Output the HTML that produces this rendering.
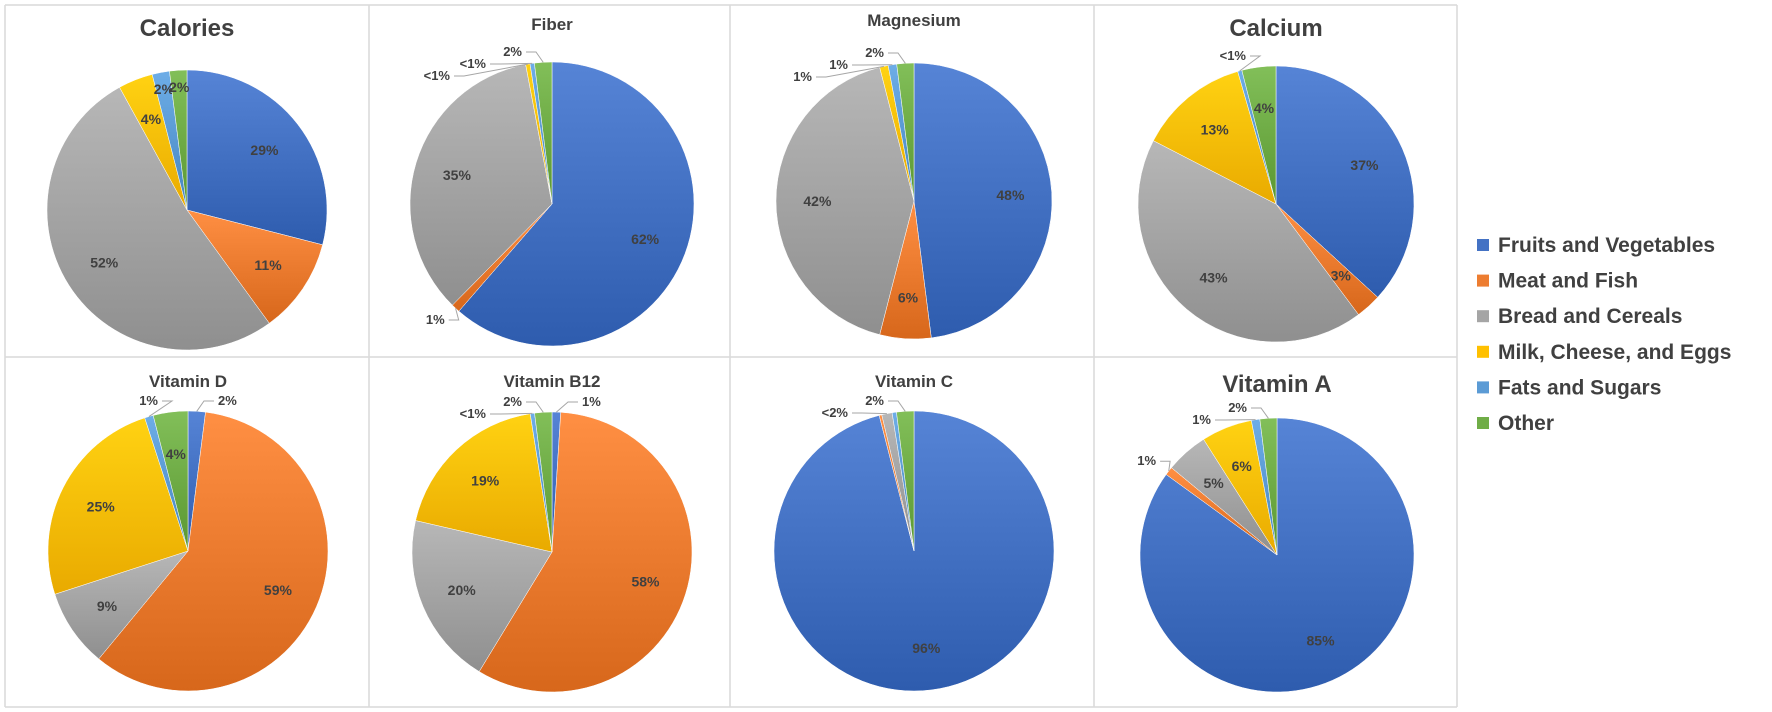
<!DOCTYPE html>
<html><head><meta charset="utf-8"><style>
body{margin:0;background:#fff;}
svg{display:block;font-family:"Liberation Sans",sans-serif;}
</style></head><body>
<svg id="chart" width="1772" height="712" viewBox="0 0 1772 712">
<defs id="defs"></defs>
<g id="frames"></g>
<g id="pies"></g>
<g id="legend"></g>
</svg>
<script>
const categories = ["Fruits and Vegetables","Meat and Fish","Bread and Cereals","Milk, Cheese, and Eggs","Fats and Sugars","Other"];
const colors = ["#4472C4","#ED7D31","#A5A5A5","#FFC000","#5B9BD5","#70AD47"];
const chartTitles = ["Calories","Fiber","Magnesium","Calcium","Vitamin D","Vitamin B12","Vitamin C","Vitamin A"];
const caloriesValues = [29,11,52,4,2,2];
const fiberValues = [62,1,35,0.5,0.5,2];
const magnesiumValues = [48,6,42,1,1,2];
const calciumValues = [37,3,43,13,0.5,4];
const vitaminDValues = [2,59,9,25,1,4];
const vitaminB12Values = [1,58,20,19,0.5,2];
const vitaminCValues = [96,0.3,1.2,0,0.5,2];
const vitaminAValues = [85,1,5,6,1,2];
const caloriesLabels = ["29%","11%","52%","4%","2%","2%"];
const fiberLabels = ["62%","1%","35%","<1%","<1%","2%"];
const magnesiumLabels = ["48%","6%","42%","1%","1%","2%"];
const calciumLabels = ["37%","3%","43%","13%","<1%","4%"];
const vitaminDLabels = ["2%","59%","9%","25%","1%","4%"];
const vitaminB12Labels = ["1%","58%","20%","19%","<1%","2%"];
const vitaminCLabels = ["96%","","<2%","","","2%"];
const vitaminALabels = ["85%","1%","5%","6%","1%","2%"];

const allValues=[caloriesValues,fiberValues,magnesiumValues,calciumValues,vitaminDValues,vitaminB12Values,vitaminCValues,vitaminAValues];
const allLabels=[caloriesLabels,fiberLabels,magnesiumLabels,calciumLabels,vitaminDLabels,vitaminB12Labels,vitaminCLabels,vitaminALabels];
const layout=[
 {cx:187,cy:210,r:140,ty:36,ts:24},{cx:552,cy:204,r:142,ty:30,ts:17},
 {cx:914,cy:201,r:138,ty:26,ts:17},{cx:1276,cy:204,r:138,ty:36,ts:24},
 {cx:188,cy:551,r:140,ty:387,ts:17},{cx:552,cy:552,r:140,ty:387,ts:17},
 {cx:914,cy:551,r:140,ty:387,ts:17},{cx:1277,cy:555,r:137,ty:392,ts:24}];
const NS="http://www.w3.org/2000/svg";
const svg=document.getElementById('chart');
function mk(t,a,p){const e=document.createElementNS(NS,t);for(const k in a)e.setAttribute(k,a[k]);p.appendChild(e);return e;}
const defs=document.getElementById('defs');
colors.forEach((c,i)=>{
  const g=mk('linearGradient',{id:'g'+i,x1:0,y1:0,x2:0,y2:1},defs);
  mk('stop',{offset:0,'stop-color':c,'stop-opacity':1},g);
  mk('stop',{offset:1,'stop-color':c},g);
  const f=g.firstChild;f.setAttribute('style','filter:none');
});
// lighten top
function shade(hex,amt){const n=parseInt(hex.slice(1),16);let r=n>>16,g=(n>>8)&255,b=n&255;
 const f=v=>Math.max(0,Math.min(255,Math.round(v+amt)));return 'rgb('+f(r)+','+f(g)+','+f(b)+')';}
colors.forEach((c,i)=>{const g=document.getElementById('g'+i);g.children[0].setAttribute('stop-color',shade(c,18));g.children[1].setAttribute('stop-color',shade(c,-22));});

// frames
const fr=document.getElementById('frames');
const xs=[5,369,730,1094,1457], ys=[5,357,707];
xs.forEach(x=>mk('line',{x1:x,y1:ys[0],x2:x,y2:ys[2],stroke:'#d9d9d9','stroke-width':1.5},fr));
ys.forEach(y=>mk('line',{x1:xs[0],y1:y,x2:xs[4],y2:y,stroke:'#d9d9d9','stroke-width':1.5},fr));

function pt(cx,cy,r,a){return [cx+r*Math.sin(a),cy-r*Math.cos(a)];}
const pies=document.getElementById('pies');
allValues.forEach((vals,ci)=>{
  const L=layout[ci];const grp=mk('g',{},pies);
  
  
  const t=mk('text',{x:L.cx,y:L.ty,'text-anchor':'middle','font-size':L.ts,'font-weight':'bold',fill:'#404040'},grp);
  t.textContent=chartTitles[ci];
  
  
  const total=vals.reduce((a,b)=>a+b,0);
  let a0=0;const outs=[];
  vals.forEach((v,i)=>{
    const a1=a0+v/total*2*Math.PI;
    if(v>0){
      const p0=pt(L.cx,L.cy,L.r,a0),p1=pt(L.cx,L.cy,L.r,a1);
      const large=(a1-a0)>Math.PI?1:0;
      const s=mk('path',{d:`M${L.cx},${L.cy}L${p0[0]},${p0[1]}A${L.r},${L.r} 0 ${large} 1 ${p1[0]},${p1[1]}Z`,fill:'url(#g'+i+')',stroke:'#fff','stroke-width':0.5},grp);
      
      
    }
    const lab=allLabels[ci][i];
    if(lab){
      const am=(a0+a1)/2;
      if(v>=3||ci===0){
        const rr=v>=3?0.7:0.88;const p=pt(L.cx,L.cy,L.r*rr,am);
        const tx=mk('text',{x:p[0],y:p[1]+5,'text-anchor':'middle','font-size':14,'font-weight':'bold',fill:'#404040'},grp);
        tx.textContent=lab;
        
        
      } else outs.push({am,lab});
    }
    a0=a1;
  });
  // outside labels
  const left=outs.filter(o=>Math.sin(o.am)<0 && o.am>Math.PI), right=outs.filter(o=>!(Math.sin(o.am)<0 && o.am>Math.PI));
  right.forEach((o,k)=>{
    const e=pt(L.cx,L.cy,L.r,o.am);
    let lx,ly;
    if(o.am<0.3||o.am>6){lx=L.cx+30+k*30;ly=L.cy-L.r-10;}else{const q=pt(L.cx,L.cy,L.r+16,o.am);lx=q[0];ly=q[1];}
    const ln=mk('polyline',{points:`${e[0]},${e[1]} ${lx-14},${ly} ${lx-4},${ly}`,fill:'none',stroke:'#a6a6a6','stroke-width':1},grp);
    
    
    const tx=mk('text',{x:lx,y:ly+4,'font-size':13,'font-weight':'bold',fill:'#404040'},grp);
    tx.textContent=o.lab;
    
    
  });
  left.reverse().forEach((o,k)=>{
    const e=pt(L.cx,L.cy,L.r,o.am);
    let lx,ly;
    if(o.am>5.6){lx=L.cx-30-k*36;ly=L.cy-L.r-10+k*12;}else{const q=pt(L.cx,L.cy,L.r+16,o.am);lx=q[0];ly=q[1];}
    const ln=mk('polyline',{points:`${e[0]},${e[1]} ${lx+14},${ly} ${lx+4},${ly}`,fill:'none',stroke:'#a6a6a6','stroke-width':1},grp);
    
    
    const tx=mk('text',{x:lx,y:ly+4,'text-anchor':'end','font-size':13,'font-weight':'bold',fill:'#404040'},grp);
    tx.textContent=o.lab;
    
    
  });
});

// legend
const lg=document.getElementById('legend');
categories.forEach((c,i)=>{
  const y=245+i*35.6;
  const g=mk('g',{},lg);
  
  
  mk('rect',{x:1477,y:y-6,width:12,height:12,fill:colors[i]},g);
  const t=mk('text',{x:1498,y:y+7,'font-size':21,'font-weight':'bold',fill:'#404040'},g);
  t.textContent=c;
});
</script>
</body></html>
